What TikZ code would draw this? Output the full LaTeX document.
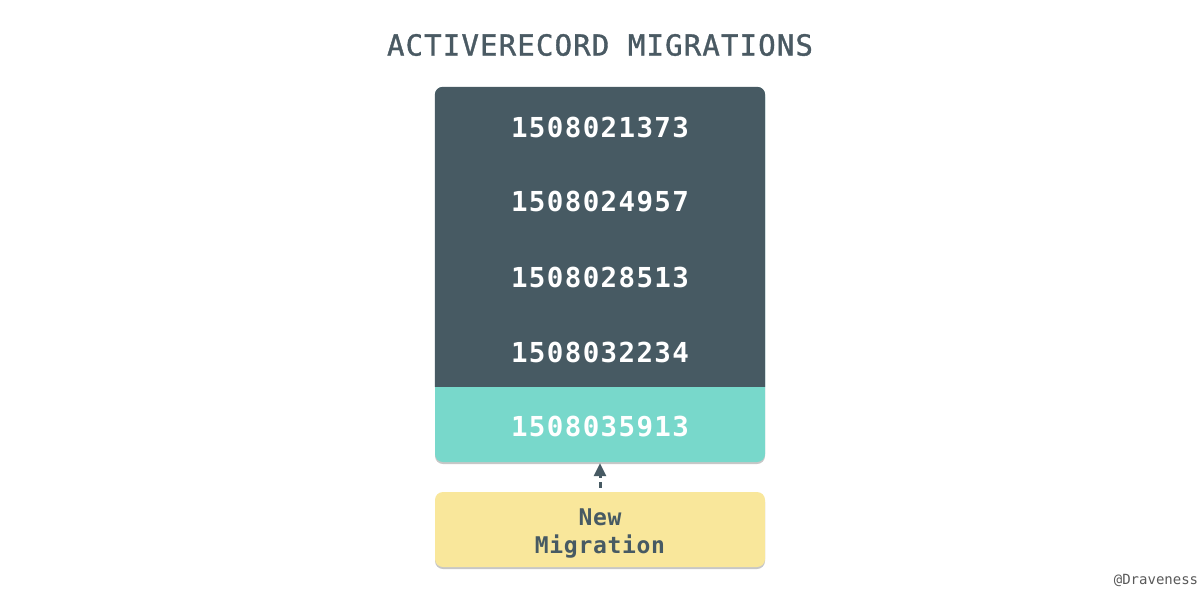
\documentclass[tikz,border=0pt]{standalone}
\usepackage{fontspec}
\setmonofont{DejaVu Sans Mono}
\newfontfamily\titlefont[LetterSpace=4,FakeBold=1.2]{DejaVu Sans Mono}
\newfontfamily\numfont[LetterSpace=5]{DejaVu Sans Mono}
\newfontfamily\labfont[LetterSpace=3]{DejaVu Sans Mono}
\usetikzlibrary{arrows.meta,shadows}
\definecolor{darkbox}{HTML}{475A63}
\definecolor{tealbox}{HTML}{78D8CB}
\definecolor{yellowbox}{HTML}{F9E79B}
\definecolor{titlecol}{HTML}{4A5A63}
\tikzset{
  titlestyle/.style={font=\titlefont\fontsize{29}{34}\selectfont, text=titlecol, inner sep=0pt},
  rowtext/.style={font=\numfont\bfseries\fontsize{27.5}{32}\selectfont, text=white, inner sep=0pt},
  boxshadow/.style={drop shadow={shadow xshift=0pt, shadow yshift=-2pt, opacity=0.22, fill=black}},
  stackbox/.style={fill=tealbox, rounded corners=8pt, minimum width=330pt, minimum height=375pt, inner sep=0pt, boxshadow},
  newbox/.style={fill=yellowbox, rounded corners=8pt, minimum width=330pt, minimum height=75pt, inner sep=0pt, align=center, boxshadow,
    text height=54pt, text depth=6pt,
    font=\labfont\bfseries\fontsize{23}{28}\selectfont, text=darkbox},
  linkarrow/.style={draw=darkbox, line width=3pt, dash pattern=on 6pt off 4pt, -{Triangle[width=12pt,length=13pt]}, shorten <=4pt, shorten >=1pt},
  signature/.style={font=\ttfamily\fontsize{14}{16}\selectfont, text=black!65, inner sep=0pt}
}
\begin{document}
\begin{tikzpicture}[x=1pt,y=-1pt]
\useasboundingbox[fill=white] (0,0) rectangle (1200,590);
\node[titlestyle] (title) at (600,45) {ACTIVERECORD MIGRATIONS};
\node[stackbox] (stack) at (600,274.5) {};
\fill[darkbox, rounded corners=8pt] ([yshift=-300pt]stack.north west) -- (stack.north west) -- (stack.north east) -- ([yshift=-300pt]stack.north east);
\node[rowtext] (r1) at (600,127) {1508021373};
\node[rowtext] (r2) at (600,202) {1508024957};
\node[rowtext] (r3) at (600,277) {1508028513};
\node[rowtext] (r4) at (600,352) {1508032234};
\node[rowtext] (r5) at (600,427) {1508035913};
\node[newbox] (new) at (600,529.5) {New\\Migration};
\draw[linkarrow] (new.north) -- (stack.south);
\node[signature] (sig) at (1156,580) {@Draveness};
\end{tikzpicture}
\end{document}
